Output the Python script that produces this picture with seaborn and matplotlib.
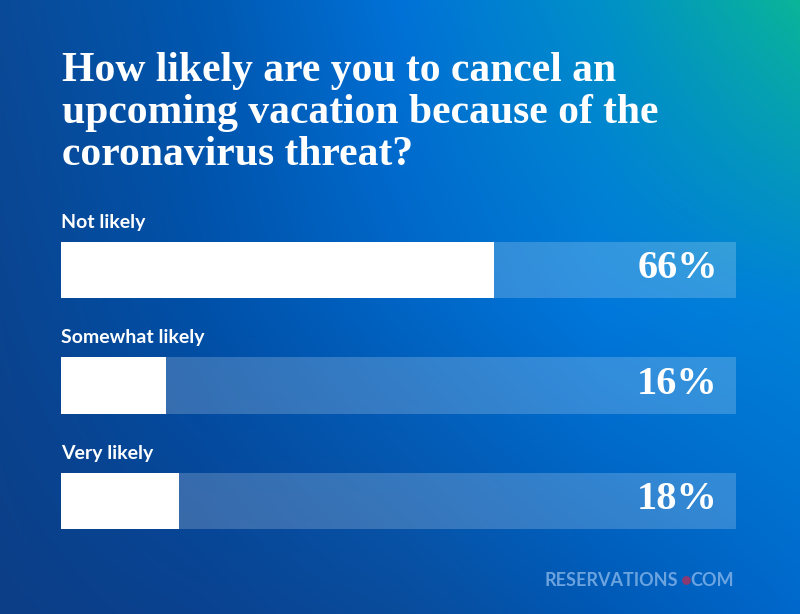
import numpy as np
import pandas as pd
import matplotlib
matplotlib.use("Agg")
import matplotlib.pyplot as plt
import seaborn as sns

# =========================
# DATA
# =========================
answers = ["Not likely", "Somewhat likely", "Very likely"]
shares = [66, 16, 18]
title = "How likely are you to cancel an\nupcoming vacation because of the\ncoronavirus threat?"

df = pd.DataFrame({"answer": answers, "share": shares})

# =========================
# BACKGROUND GRADIENT
# =========================
W, H = 800, 614
grid_x = [0, 200, 400, 600, 800]
grid_y = [0, 307, 614]
grid_hex = [
    ["#0A4A98", "#0058B0", "#0072D8", "#0090C8", "#0AB598"],
    ["#0A4490", "#0050A8", "#0064C4", "#0078DC", "#0082D8"],
    ["#0C3E86", "#0A4290", "#0A4C9C", "#0058B4", "#0068CC"],
]
grid_rgb = np.array([[matplotlib.colors.to_rgb(c) for c in row] for row in grid_hex])

xs = np.arange(W)
ys = np.arange(H)
rows = np.zeros((len(grid_y), W, 3))
for r in range(len(grid_y)):
    for ch in range(3):
        rows[r, :, ch] = np.interp(xs, grid_x, grid_rgb[r, :, ch])
img = np.zeros((H, W, 3))
for ch in range(3):
    for col in range(W):
        img[:, col, ch] = np.interp(ys, grid_y, rows[:, col, ch])

fig = plt.figure(figsize=(8, 6.14), dpi=100)
bg = fig.add_axes([0, 0, 1, 1])
bg.imshow(img, aspect="auto", extent=[0, W, H, 0])
bg.set_xlim(0, W)
bg.set_ylim(H, 0)
bg.set_axis_off()

# =========================
# BARS
# =========================
x_max = 103  # full track length in data units
ax = fig.add_axes([61 / W, 1 - 558.75 / H, 675 / W, 346.5 / H])
ax.set_facecolor("none")

track = df.assign(share=x_max)
sns.barplot(data=track, x="share", y="answer", orient="h", color="white",
            alpha=0.2, width=0.485, linewidth=0, ax=ax)
sns.barplot(data=df, x="share", y="answer", orient="h", color="white",
            width=0.485, linewidth=0, ax=ax)

ax.set_xlim(0, x_max)
ax.set_ylim(2.5, -0.5)
ax.set_axis_off()

for i, (lab, val) in enumerate(zip(answers, shares)):
    ax.text(0, i - 0.415, lab, color="white", fontsize=14, family="Lato",
            fontweight="bold", ha="left", va="center")
    ax.text(0.973, 1 - (i + 0.5) / 3 + 0.004, f"{val}%", transform=ax.transAxes,
            color="white", fontsize=29, family="Liberation Serif",
            fontweight="bold", ha="right", va="center")

# =========================
# TITLE + LOGO
# =========================
fig.text(62 / W, 1 - 52 / H, title, color="white", fontsize=30,
         family="Liberation Serif", fontweight="bold", ha="left", va="top",
         linespacing=1.13)

fig.text(545 / W, 1 - 580 / H, "RESERVATIONS", color="#7FB0E6", alpha=0.85,
         fontsize=13, family="Lato", fontweight="bold", ha="left", va="center")
bg.scatter([685.5], [580], s=40, color="#8A3A70", linewidths=0, zorder=5)
fig.text(734 / W, 1 - 580 / H, "COM", color="#7FB0E6", alpha=0.85,
         fontsize=13, family="Lato", fontweight="bold", ha="right", va="center")

fig.savefig("out.png", dpi=100)
